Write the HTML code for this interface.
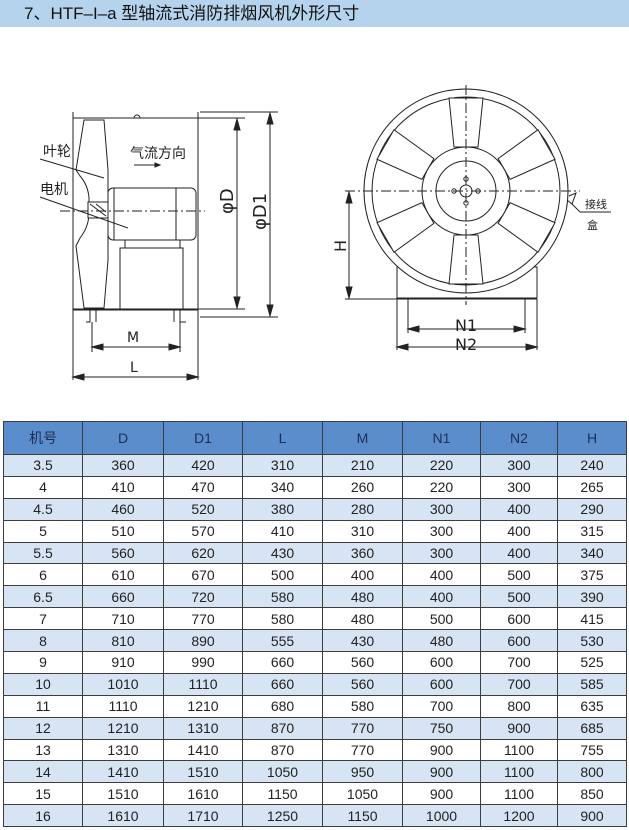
<!DOCTYPE html>
<html><head><meta charset="utf-8"><style>
body{margin:0;width:629px;height:830px;background:#fff;position:relative;overflow:hidden;font-family:"Liberation Sans","Noto Sans CJK SC",sans-serif}
.title{position:absolute;left:0;top:0;width:629px;height:27px;background:#b6d3ee;font-size:17px;line-height:28px;color:#111;padding-left:24px;box-sizing:border-box}
svg{position:absolute;left:0;top:0}
table{position:absolute;left:3px;top:421px;width:624px;border-collapse:collapse;font-size:14px;color:#222}
td{border:1px solid #3d3d3d;text-align:center;height:20.9px;padding:0}
tr.h td{background:#5b8ccb;color:#1d2f55;height:32px;font-size:14px}
tr.a td{background:#d6e4f3}
tr.b td{background:#fff}
</style></head><body>
<div class="title">7、HTF–I–a 型轴流式消防排烟风机外形尺寸</div>
<svg width="629" height="410" viewBox="0 0 629 410" fill="none" stroke="#222" stroke-width="1">
<line x1="73" y1="112" x2="73" y2="380"/>
<line x1="198" y1="112" x2="198" y2="380"/>
<line x1="73" y1="118" x2="198" y2="118"/>
<line x1="73" y1="309" x2="198" y2="309"/>
<line x1="73" y1="310" x2="198" y2="310"/>
<path d="M134 118 a3 3 0 0 1 6 0"/>
<path d="M84 120 L104 120 L108 170 L108 260 L104 308 L84 308 L76 246 L80 238 Q88 228 89 215 L89 198 Q88 185 80 176 L76 170 Z" fill="#fff"/>
<line x1="108" y1="170" x2="108" y2="260"/>
<rect x="108" y="188" width="88" height="52" rx="5" fill="#fff"/>
<line x1="114" y1="188" x2="114" y2="240"/>
<line x1="176" y1="188" x2="176" y2="240"/>
<rect x="88" y="202" width="20" height="16" fill="#fff"/>
<line x1="90" y1="204" x2="106" y2="216"/><line x1="96" y1="204" x2="106" y2="212"/>
<rect x="120" y="248" width="63" height="61"/>
<rect x="125" y="240" width="55" height="8"/>
<line x1="60" y1="211" x2="205" y2="211" stroke-dasharray="10,3,2,3"/>
<path d="M90 310 V322 H86 M96 310 V322"/>
<path d="M180 310 V322 H186 M174 310 V322"/>
<line x1="40" y1="159" x2="104" y2="178"/>
<line x1="40" y1="197" x2="128" y2="228"/>
<line x1="134" y1="165" x2="155" y2="165"/>
<path d="M155 163 L160 165 L155 167Z" fill="#222"/>
<line x1="198" y1="118" x2="245" y2="118"/><line x1="198" y1="309" x2="245" y2="309"/>
<line x1="237" y1="120" x2="237" y2="307"/>
<path d="M234 130 L237 119 L240 130Z M234 297 L237 308 L240 297Z" fill="#222"/>
<line x1="200" y1="112" x2="278" y2="112"/><line x1="200" y1="317" x2="278" y2="317"/>
<line x1="270" y1="114" x2="270" y2="315"/>
<path d="M267 124 L270 113 L273 124Z M267 305 L270 316 L273 305Z" fill="#222"/>
<line x1="92" y1="322" x2="92" y2="352"/><line x1="180" y1="322" x2="180" y2="352"/>
<line x1="92" y1="347" x2="180" y2="347"/>
<path d="M92 347 L103 344 L103 350Z M180 347 L169 344 L169 350Z" fill="#222"/>
<line x1="73" y1="377" x2="198" y2="377"/>
<path d="M73 377 L84 374 L84 380Z M198 377 L187 374 L187 380Z" fill="#222"/>
<rect x="397" y="267" width="140" height="31" fill="#fff"/>
<line x1="397" y1="299" x2="537" y2="299"/>
<circle cx="466" cy="191" r="102" fill="#fff"/>
<circle cx="466" cy="191" r="94"/>
<g fill="#fff">
<polygon points="454,147 478,147 483,98 449,98"/>
<polygon points="454,147 478,147 483,98 449,98" transform="rotate(60 466 191)"/>
<polygon points="454,147 478,147 483,98 449,98" transform="rotate(120 466 191)"/>
<polygon points="454,147 478,147 483,98 449,98" transform="rotate(180 466 191)"/>
<polygon points="454,147 478,147 483,98 449,98" transform="rotate(240 466 191)"/>
<polygon points="454,147 478,147 483,98 449,98" transform="rotate(300 466 191)"/>
</g>
<circle cx="466" cy="191" r="44" fill="#fff"/>
<circle cx="466" cy="191" r="30"/>
<circle cx="466" cy="191" r="6"/>
<circle cx="466" cy="179" r="2.2"/><circle cx="466" cy="203" r="2.2"/>
<circle cx="454" cy="191" r="2.2"/><circle cx="478" cy="191" r="2.2"/>
<line x1="345" y1="191" x2="580" y2="191" stroke-dasharray="10,3,2,3"/>
<line x1="466" y1="85" x2="466" y2="305" stroke-dasharray="10,3,2,3"/>
<line x1="345" y1="299" x2="397" y2="299"/>
<line x1="349" y1="193" x2="349" y2="297"/>
<path d="M346 203 L349 192 L352 203Z M346 287 L349 298 L352 287Z" fill="#222"/>
<line x1="408" y1="299" x2="408" y2="333"/><line x1="525" y1="299" x2="525" y2="333"/>
<line x1="408" y1="329" x2="525" y2="329"/>
<path d="M408 329 L419 326 L419 332Z M525 329 L514 326 L514 332Z" fill="#222"/>
<line x1="397" y1="299" x2="397" y2="350"/><line x1="537" y1="299" x2="537" y2="350"/>
<line x1="397" y1="347" x2="537" y2="347"/>
<path d="M397 347 L408 344 L408 350Z M537 347 L526 344 L526 350Z" fill="#222"/>
<path d="M569 196 L576 193 L572 204 L567 200"/>
<line x1="572" y1="204" x2="580" y2="212"/><line x1="580" y1="212" x2="611" y2="212"/>
<g fill="#222" stroke="none" font-family="Liberation Sans,Noto Sans CJK SC,sans-serif">
<text x="43" y="156" font-size="14">叶轮</text>
<text x="40" y="194" font-size="14">电机</text>
<text x="130" y="158" font-size="14">气流方向</text>
<text x="127" y="342" font-size="14" font-family="DejaVu Sans,sans-serif">M</text>
<text x="130" y="372" font-size="14" font-family="DejaVu Sans,sans-serif">L</text>
<text x="0" y="0" font-size="18" font-family="DejaVu Sans,sans-serif" transform="translate(233 214) rotate(-90)">φD</text>
<text x="0" y="0" font-size="18" font-family="DejaVu Sans,sans-serif" transform="translate(266 230) rotate(-90)">φD1</text>
<text x="0" y="0" font-size="16" font-family="DejaVu Sans,sans-serif" transform="translate(346 252) rotate(-90)">H</text>
<text x="455" y="331" font-size="16" font-family="DejaVu Sans,sans-serif">N1</text>
<text x="455" y="350" font-size="16" font-family="DejaVu Sans,sans-serif">N2</text>
<text x="585" y="208" font-size="11">接线</text>
<text x="587" y="229" font-size="11">盒</text>
</g>
</svg>
<table>
<tr class="h"><td style="width:78px">机号</td><td style="width:80px">D</td><td style="width:78px">D1</td><td style="width:79px">L</td><td style="width:79px">M</td><td style="width:77px">N1</td><td style="width:76px">N2</td><td>H</td></tr>
<tr class="a"><td>3.5</td><td>360</td><td>420</td><td>310</td><td>210</td><td>220</td><td>300</td><td>240</td></tr>
<tr class="b"><td>4</td><td>410</td><td>470</td><td>340</td><td>260</td><td>220</td><td>300</td><td>265</td></tr>
<tr class="a"><td>4.5</td><td>460</td><td>520</td><td>380</td><td>280</td><td>300</td><td>400</td><td>290</td></tr>
<tr class="b"><td>5</td><td>510</td><td>570</td><td>410</td><td>310</td><td>300</td><td>400</td><td>315</td></tr>
<tr class="a"><td>5.5</td><td>560</td><td>620</td><td>430</td><td>360</td><td>300</td><td>400</td><td>340</td></tr>
<tr class="b"><td>6</td><td>610</td><td>670</td><td>500</td><td>400</td><td>400</td><td>500</td><td>375</td></tr>
<tr class="a"><td>6.5</td><td>660</td><td>720</td><td>580</td><td>480</td><td>400</td><td>500</td><td>390</td></tr>
<tr class="b"><td>7</td><td>710</td><td>770</td><td>580</td><td>480</td><td>500</td><td>600</td><td>415</td></tr>
<tr class="a"><td>8</td><td>810</td><td>890</td><td>555</td><td>430</td><td>480</td><td>600</td><td>530</td></tr>
<tr class="b"><td>9</td><td>910</td><td>990</td><td>660</td><td>560</td><td>600</td><td>700</td><td>525</td></tr>
<tr class="a"><td>10</td><td>1010</td><td>1110</td><td>660</td><td>560</td><td>600</td><td>700</td><td>585</td></tr>
<tr class="b"><td>11</td><td>1110</td><td>1210</td><td>680</td><td>580</td><td>700</td><td>800</td><td>635</td></tr>
<tr class="a"><td>12</td><td>1210</td><td>1310</td><td>870</td><td>770</td><td>750</td><td>900</td><td>685</td></tr>
<tr class="b"><td>13</td><td>1310</td><td>1410</td><td>870</td><td>770</td><td>900</td><td>1100</td><td>755</td></tr>
<tr class="a"><td>14</td><td>1410</td><td>1510</td><td>1050</td><td>950</td><td>900</td><td>1100</td><td>800</td></tr>
<tr class="b"><td>15</td><td>1510</td><td>1610</td><td>1150</td><td>1050</td><td>900</td><td>1100</td><td>850</td></tr>
<tr class="a"><td>16</td><td>1610</td><td>1710</td><td>1250</td><td>1150</td><td>1000</td><td>1200</td><td>900</td></tr>
</table>
</body></html>
